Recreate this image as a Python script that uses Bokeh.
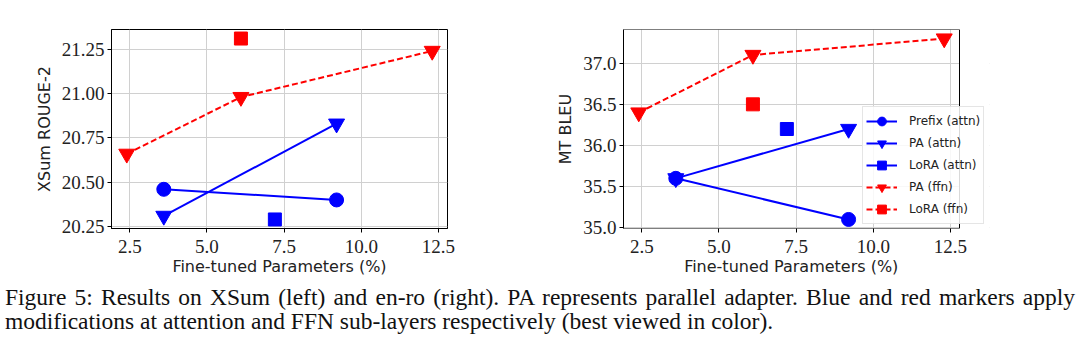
from bokeh.plotting import figure
from bokeh.layouts import column, row
from bokeh.models import (Range1d, FixedTicker, PrintfTickFormatter, Legend, LegendItem, Div,
                          BoxAnnotation)
from bokeh.embed import file_html
from bokeh.resources import INLINE

# ---------------- data ----------------
prefix_attn_x = [3.6, 9.2]
pa_attn_x = [3.6, 9.2]
lora_attn_x = [7.2]
pa_ffn_x = [2.4, 6.1, 12.3]
lora_ffn_x = [6.1]

xsum_prefix_attn = [20.46, 20.40]
xsum_pa_attn = [20.31, 20.83]
xsum_lora_attn = [20.29]
xsum_pa_ffn = [20.66, 20.98, 21.24]
xsum_lora_ffn = [21.31]

enro_prefix_attn = [35.6, 35.1]
enro_pa_attn = [35.6, 36.2]
enro_lora_attn = [36.2]
enro_pa_ffn = [36.4, 37.1, 37.3]
enro_lora_ffn = [36.5]

series_names = ["Prefix (attn)", "PA (attn)", "LoRA (attn)", "PA (ffn)", "LoRA (ffn)"]

x_ticks = [2.5, 5.0, 7.5, 10.0, 12.5]
xsum_y_ticks = [20.25, 20.50, 20.75, 21.00, 21.25]
enro_y_ticks = [35.0, 35.5, 36.0, 36.5, 37.0]

x_label = "Fine-tuned Parameters (%)"
xsum_y_label = "XSum ROUGE-2"
enro_y_label = "MT BLEU"

caption_line1 = ("Figure 5: Results on XSum (left) and en-ro (right). PA represents parallel adapter. "
                 "Blue and red markers apply")
caption_line2 = "modifications at attention and FFN sub-layers respectively (best viewed in color)."

BLUE = "#0000ff"
RED = "#ff0000"
styles = [
    (BLUE, "solid", "circle", 14),
    (BLUE, "solid", "inverted_triangle", 16),
    (BLUE, "solid", "square", 13),
    (RED, "6 3", "inverted_triangle", 16),
    (RED, "6 3", "square", 13),
]

X_LO, X_HI = 1.905, 12.795
PX_PER_X = 336 / (X_HI - X_LO)


def make_plot(ys, y_ticks, y_label, yr, left, right, y_fmt, legend=False):
    xs = [prefix_attn_x, pa_attn_x, lora_attn_x, pa_ffn_x, lora_ffn_x]
    extra = 30 if legend else 0          # room for the legend that sticks out of the frame
    x_hi = X_HI + extra / PX_PER_X
    p = figure(frame_width=336 + extra, frame_height=199, x_range=Range1d(X_LO, x_hi),
               y_range=Range1d(*yr), output_backend="svg", toolbar_location=None,
               min_border_left=left, min_border_right=right, min_border_top=29,
               min_border_bottom=52, background_fill_color="white", border_fill_color="white")
    p.grid.grid_line_color = "#d0d0d0"
    p.grid.grid_line_width = 1
    p.xaxis.ticker = FixedTicker(ticks=x_ticks)
    p.yaxis.ticker = FixedTicker(ticks=y_ticks)
    p.xaxis.formatter = PrintfTickFormatter(format="%.1f")
    p.yaxis.formatter = PrintfTickFormatter(format=y_fmt)
    for ax in (p.xaxis[0], p.yaxis[0]):
        ax.axis_line_color = "black"
        ax.major_tick_out = 4
        ax.major_tick_in = 0
        ax.minor_tick_out = 0
        ax.minor_tick_in = 0
        ax.major_tick_line_color = "black"
        ax.major_label_text_font = "Liberation Serif"
        ax.major_label_text_font_size = "19px"
        ax.major_label_text_color = "#222222"
        ax.major_label_standoff = 3
        ax.axis_label_text_font = "DejaVu Sans"
        ax.axis_label_text_font_size = "16px"
        ax.axis_label_text_font_style = "normal"
        ax.axis_label_text_color = "#222222"
        ax.axis_label_standoff = 5
    p.xaxis.major_label_standoff = 7
    p.xaxis.axis_label_standoff = 1
    # shift the centred label back to the centre of the visible frame
    pad = "\u00a0" * (6 if legend else 0)
    p.xaxis.axis_label = x_label + pad
    p.yaxis.axis_label = y_label

    items = []
    for name, x, y, (c, dash, marker, size) in zip(series_names, xs, ys, styles):
        lr = p.line(x, y, line_color=c, line_width=2, line_dash=dash)
        sr = p.scatter(x, y, marker=marker, size=size, fill_color=c, line_color=c)
        items.append(LegendItem(label=name, renderers=[lr, sr]))

    if legend:
        p.outline_line_color = None
        p.xaxis.axis_line_color = None
        # white cover for the extra strip right of the visible frame
        p.add_layout(BoxAnnotation(left=X_HI, fill_color="white", fill_alpha=1.0,
                                   line_color=None))
        # visible frame outline
        p.add_layout(BoxAnnotation(left=X_LO, right=X_HI, bottom=yr[0], top=yr[1],
                                   fill_alpha=0.0, line_color="black", line_width=1,
                                   line_alpha=1.0))
        lg = Legend(items=items, location=(239, 4), label_text_font="DejaVu Sans",
                    label_text_font_size="12px", label_text_color="#222222",
                    glyph_width=31, glyph_height=22, label_height=22, spacing=0,
                    padding=3, label_standoff=12, margin=0,
                    border_line_color="#cccccc", border_line_width=1,
                    background_fill_color="white", background_fill_alpha=0.85)
        p.add_layout(lg, "center")
    else:
        p.outline_line_color = "black"
        p.outline_line_width = 1
    return p


p1 = make_plot([xsum_prefix_attn, xsum_pa_attn, xsum_lora_attn, xsum_pa_ffn, xsum_lora_ffn],
               xsum_y_ticks, xsum_y_label, (20.239, 21.361), 111, 10, "%.2f")
p2 = make_plot([enro_prefix_attn, enro_pa_attn, enro_lora_attn, enro_pa_ffn, enro_lora_ffn],
               enro_y_ticks, enro_y_label, (34.99, 37.41), 166, 10, "%.1f", legend=True)

caption = Div(text=(f'<div style="width:1070px;text-align:justify;text-align-last:justify">'
                    f'{caption_line1}</div><div>{caption_line2}</div>'),
              width=1070,
              styles={"font-family": "Liberation Serif", "font-size": "23.5px", "line-height": "24px",
                      "color": "#111111", "margin-left": "5px", "margin-top": "5px"})

layout = column(row(p1, p2, spacing=0), caption, spacing=0)
open("out.html", "w").write(file_html(layout, INLINE))
